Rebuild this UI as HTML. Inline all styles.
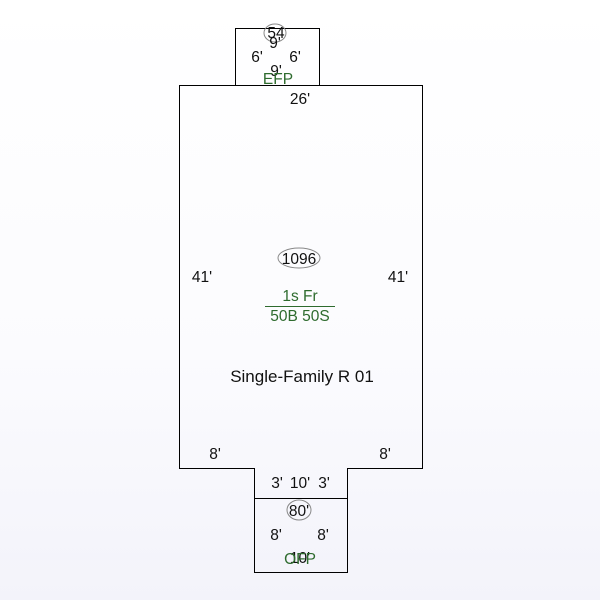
<!DOCTYPE html>
<html><head><style>
body{margin:0;width:600px;height:600px;background:linear-gradient(#ffffff 0%,#fbfbfe 60%,#f3f3fa 100%);}
svg{display:block}
text{font-family:"Liberation Sans",Arial,sans-serif;font-size:15.5px;}
</style></head><body>
<svg width="600" height="600" viewBox="0 0 600 600">
<g fill="none" stroke="#000" stroke-width="1">
<rect x="235.5" y="28.5" width="84" height="57"/>
<path d="M179.5 85.5 H422.5 V468.5 H347.5 V572.5 H254.5 V468.5 H179.5 Z"/>
<line x1="254.5" y1="498.5" x2="347.5" y2="498.5"/>
</g>
<g fill="none" stroke="#888">
<ellipse cx="275" cy="33" rx="11" ry="9"/>
<ellipse cx="299" cy="258" rx="21" ry="10"/>
<ellipse cx="299" cy="510" rx="12" ry="10"/>
</g>
<line x1="265" y1="306.5" x2="335" y2="306.5" stroke="#2e6b2e" stroke-width="1"/>
<g fill="#111" text-anchor="middle">
<text x="276" y="38">54</text>
<text x="275" y="48">9'</text>
<text x="257" y="62">6'</text>
<text x="295" y="62">6'</text>
<text x="276" y="76">9'</text>
<text x="300" y="104">26'</text>
<text x="299" y="264">1096</text>
<text x="202" y="282">41'</text>
<text x="398" y="282">41'</text>
<text x="302" y="382" style="font-size:17px">Single-Family R 01</text>
<text x="215" y="459">8'</text>
<text x="385" y="459">8'</text>
<text x="277" y="488">3'</text>
<text x="300" y="488">10'</text>
<text x="324" y="488">3'</text>
<text x="299" y="516">80'</text>
<text x="276" y="540">8'</text>
<text x="323" y="540">8'</text>
<text x="300" y="563">10'</text>
</g>
<g fill="#2e6b2e" text-anchor="middle" style="font-size:17px">
<text x="278" y="84">EFP</text>
<text x="300" y="301">1s Fr</text>
<text x="300" y="321">50B 50S</text>
<text x="300" y="564">OFP</text>
</g>
</svg>
</body></html>
